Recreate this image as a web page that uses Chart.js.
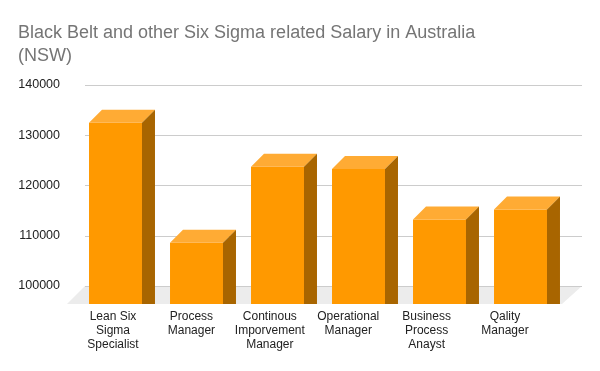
<!DOCTYPE html>
<html>
<head>
<meta charset="utf-8">
<script src="https://cdn.jsdelivr.net/npm/chart.js@4.4.1/dist/chart.umd.min.js"></script>
<style>
html, body { margin: 0; padding: 0; background: #fff; }
#wrap { width: 600px; height: 371px; }
</style>
</head>
<body>
<div id="wrap"><canvas id="salaryChart"></canvas></div>
<script>
// ==============================
// DATA
// ==============================
const categories = [
    ["Lean Six", "Sigma", "Specialist"],
    ["Process", "Manager"],
    ["Continous", "Imporvement", "Manager"],
    ["Operational", "Manager"],
    ["Business", "Process", "Anayst"],
    ["Qality", "Manager"]
];
const salaries = [132500, 108600, 123700, 123300, 113200, 115200];
const yTicks = [100000, 110000, 120000, 130000, 140000];

// ==============================
// 3D LOOK
// ==============================
const FONT = "'Liberation Sans', Arial, sans-serif";
const DEPTH = 13;

const box3d = {
    id: "box3d",
    beforeDatasetsDraw(chart){
        const {ctx, chartArea: a, scales: {y}} = chart;
        const yBase = y.getPixelForValue(yTicks[0]);

        // -- floor --
        ctx.save();
        ctx.fillStyle = "#ececec";
        ctx.beginPath();
        ctx.moveTo(a.left + 10, yBase);
        ctx.lineTo(a.right + 21, yBase);
        ctx.lineTo(a.right + 1, a.bottom);
        ctx.lineTo(a.left - 8, a.bottom);
        ctx.closePath();
        ctx.fill();

        // -- grid (back wall) --
        ctx.strokeStyle = "#cccccc";
        ctx.lineWidth = 1;
        yTicks.forEach(v => {
            const py = Math.round(y.getPixelForValue(v)) + 0.5;
            ctx.beginPath();
            ctx.moveTo(a.left + 10, py);
            ctx.lineTo(a.right + 21, py);
            ctx.stroke();
        });
        ctx.restore();
    },
    afterDatasetsDraw(chart){
        const {ctx, chartArea: a} = chart;
        const bars = chart.getDatasetMeta(0).data;
        ctx.save();
        bars.forEach(bar => {
            const x0 = bar.x - bar.width / 2;
            const x1 = bar.x + bar.width / 2;
            const top = bar.y;

            // -- top face --
            ctx.fillStyle = "#ffab34";
            ctx.beginPath();
            ctx.moveTo(x0, top);
            ctx.lineTo(x1, top);
            ctx.lineTo(x1 + DEPTH, top - DEPTH);
            ctx.lineTo(x0 + DEPTH, top - DEPTH);
            ctx.closePath();
            ctx.fill();

            // -- side face --
            ctx.fillStyle = "#a86500";
            ctx.beginPath();
            ctx.moveTo(x1, top);
            ctx.lineTo(x1 + DEPTH, top - DEPTH);
            ctx.lineTo(x1 + DEPTH, a.bottom);
            ctx.lineTo(x1, a.bottom);
            ctx.closePath();
            ctx.fill();
        });
        ctx.restore();
    }
};

// ==============================
// CHART
// ==============================
const ctx = document.getElementById("salaryChart").getContext("2d");

new Chart(ctx, {
    type: "bar",
    data: {
        labels: categories,
        datasets: [{
            data: salaries,
            backgroundColor: "#ff9900",
            borderWidth: 0,
            categoryPercentage: 1,
            barPercentage: 0.654
        }]
    },
    options: {
        responsive: true,
        maintainAspectRatio: false,
        animation: false,
        layout: { padding: { left: 18, right: 39, top: 0, bottom: 13 } },
        plugins: {
            legend: { display: false },
            tooltip: { enabled: false },
            title: {
                display: true,
                align: "start",
                text: ["Black Belt and other Six Sigma related Salary in Australia", "(NSW)"],
                color: "#757575",
                font: { family: FONT, size: 18, weight: "normal", lineHeight: 23 / 18 },
                padding: { top: 22, bottom: 17 }
            }
        },
        scales: {
            x: {
                display: false
            },
            // label axis: the category names sit on the front edge of the floor,
            // which is a bit narrower than the bar row
            xl: {
                type: "linear",
                position: "bottom",
                offset: false,
                min: -0.485,
                max: 5.714,
                grid: { display: false, drawTicks: false, offset: false },
                border: { display: false },
                afterBuildTicks: scale => {
                    scale.ticks = categories.map((c, i) => ({ value: i }));
                },
                ticks: {
                    callback: v => categories[v],
                    color: "#222222",
                    font: { family: FONT, size: 12, lineHeight: 14 / 12 },
                    padding: 6,
                    maxRotation: 0,
                    autoSkip: false
                }
            },
            y: {
                min: 96400,
                max: 140000,
                grid: { display: false, drawTicks: false },
                border: { display: false },
                afterBuildTicks: scale => {
                    scale.ticks = yTicks.map(v => ({ value: v }));
                },
                afterFit: scale => { scale.width = 57; },
                ticks: {
                    callback: v => String(v),
                    color: "#222222",
                    font: { family: FONT, size: 12.5 },
                    padding: 15
                }
            }
        }
    },
    plugins: [box3d]
});
</script>
</body>
</html>
